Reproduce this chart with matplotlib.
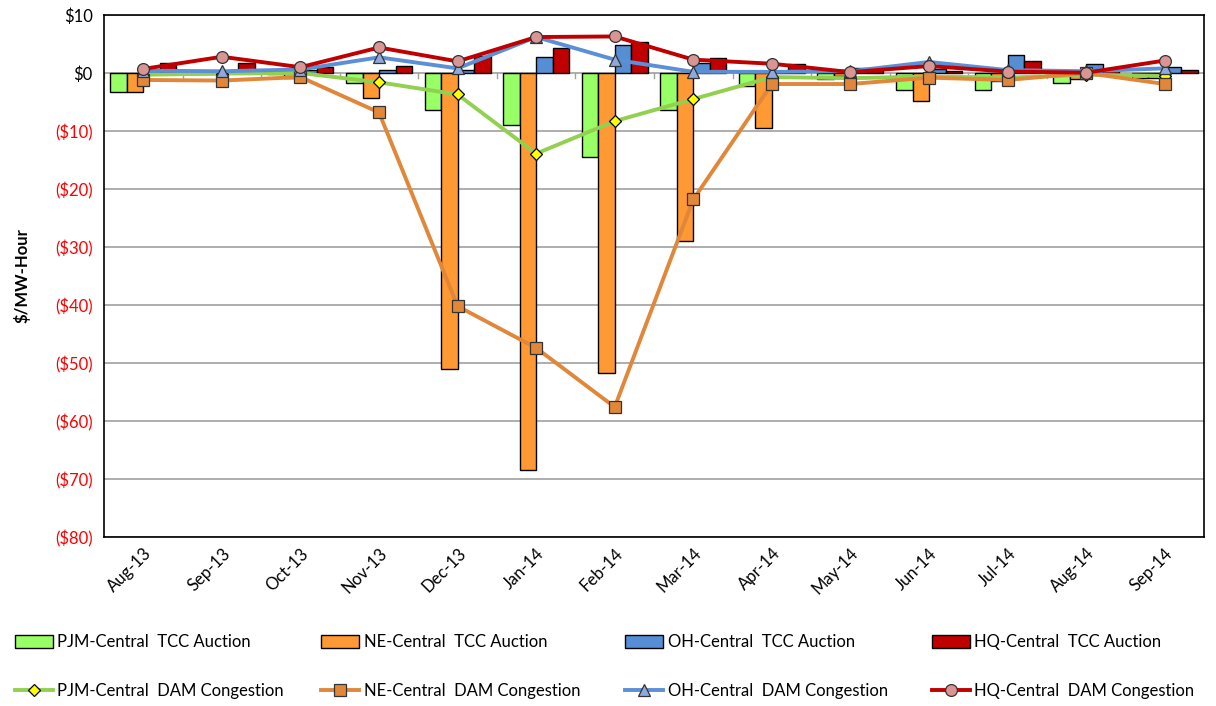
import matplotlib
matplotlib.use("Agg")
import matplotlib.pyplot as plt
import numpy as np

plt.rcParams['font.family'] = ['Lato', 'DejaVu Sans']

months = ["Aug-13", "Sep-13", "Oct-13", "Nov-13", "Dec-13", "Jan-14", "Feb-14",
          "Mar-14", "Apr-14", "May-14", "Jun-14", "Jul-14", "Aug-14", "Sep-14"]

pjm_tcc = [-3.3, -0.2, -0.1, -1.75, -6.45, -8.9, -14.5, -6.45, -2.3, -1.0, -3.0, -2.85, -1.75, -0.8]
ne_tcc = [-3.3, -0.2, -0.8, -4.3, -51.0, -68.4, -51.7, -29.0, -9.4, -0.5, -4.85, -1.3, -1.0, -0.8]
oh_tcc = [0.5, 0.2, 0.6, 0.55, 0.5, 2.8, 4.85, 1.7, 0.3, 0.8, 0.7, 3.1, 1.6, 1.0]
hq_tcc = [1.8, 1.8, 1.0, 1.2, 3.0, 4.3, 5.4, 2.6, 1.6, 0.9, 0.3, 2.0, 0.5, 0.55]

pjm_dam = [-0.3, -0.1, 0.0, -1.6, -3.7, -13.9, -8.3, -4.5, -0.7, -0.9, -0.6, -0.8, -0.3, -0.5]
ne_dam = [-1.2, -1.3, -0.7, -6.8, -40.2, -47.4, -57.6, -21.8, -1.9, -1.9, -0.8, -1.2, 0.0, -1.9]
oh_dam = [0.4, 0.3, 0.6, 2.7, 0.8, 6.2, 2.3, 0.2, 0.2, 0.3, 1.9, 0.5, 0.3, 0.8]
hq_dam = [0.7, 2.8, 1.0, 4.4, 2.0, 6.2, 6.3, 2.3, 1.6, 0.15, 1.2, 0.25, 0.05, 2.15]

y_ticks = [10, 0, -10, -20, -30, -40, -50, -60, -70, -80]
y_labels = ["$10", "$0", "($10)", "($20)", "($30)", "($40)", "($50)", "($60)", "($70)", "($80)"]

fig = plt.figure(figsize=(12.16, 7.06), dpi=100)
ax = fig.add_axes([104/1216, 1-537/706, 1100/1216, 522/706])

x = np.arange(len(months))
w = 0.21
offs = [-1.5*w, -0.5*w, 0.5*w, 1.5*w]

for i in y_ticks:
    ax.axhline(i, color='#a0a0a0', lw=1.2, zorder=0.5)

b1 = ax.bar(x + offs[0], pjm_tcc, w, color='#99FF66', edgecolor='black', lw=1, zorder=2, label='PJM-Central  TCC Auction')
b2 = ax.bar(x + offs[1], ne_tcc, w, color='#FF9933', edgecolor='black', lw=1, zorder=2, label='NE-Central  TCC Auction')
b3 = ax.bar(x + offs[2], oh_tcc, w, color='#558ED5', edgecolor='black', lw=1, zorder=2, label='OH-Central  TCC Auction')
b4 = ax.bar(x + offs[3], hq_tcc, w, color='#C00000', edgecolor='black', lw=1, zorder=2, label='HQ-Central  TCC Auction')

l1, = ax.plot(x, pjm_dam, color='#92D050', lw=2.8, marker='D', ms=6.5, mfc='#FFFF00', mec='black', mew=0.9, zorder=3, label='PJM-Central  DAM Congestion')
l2, = ax.plot(x, ne_dam, color='#E0873A', lw=2.8, marker='s', ms=8, mfc='#E0873A', mec='#333333', mew=0.9, zorder=3, label='NE-Central  DAM Congestion')
l3, = ax.plot(x, oh_dam, color='#5B8FD6', lw=2.8, marker='^', ms=8.5, mfc='#8EA9DB', mec='#333333', mew=0.9, zorder=3, label='OH-Central  DAM Congestion')
l4, = ax.plot(x, hq_dam, color='#C00000', lw=2.8, marker='o', ms=8.5, mfc='#D99594', mec='#333333', mew=0.9, zorder=3, label='HQ-Central  DAM Congestion')

ax.set_xlim(-0.5, len(months) - 0.5)
ax.set_ylim(-80, 10)
ax.set_yticks(y_ticks)
ax.set_yticklabels(y_labels, fontsize=12)
for t, v in zip(ax.get_yticklabels(), y_ticks):
    t.set_color('red' if v < 0 else 'black')
ax.tick_params(axis='y', length=0, pad=8)

ax.set_xticks(x)
ax.set_xticklabels(months, rotation=45, ha='right', rotation_mode='anchor', fontsize=12)
ax.tick_params(axis='x', length=0, pad=6)

# small boundary ticks on the zero line
for b in np.arange(-0.5, len(months), 1.0):
    ax.plot([b, b], [0, -0.8], color='#a0a0a0', lw=1, zorder=1)

for s in ax.spines.values():
    s.set_color('black')
    s.set_linewidth(1.2)

ax.set_ylabel('$/MW-Hour', fontsize=12, fontweight='bold', labelpad=18)

col_x = [15, 321, 625, 932]
row_y = [642, 691]
cols = [(b1, l1), (b2, l2), (b3, l3), (b4, l4)]
for cx, (hb, hl) in zip(col_x, cols):
    for ry, h in zip(row_y, (hb, hl)):
        fig.legend(handles=[h], labels=[h.get_label()], loc='center left',
                   bbox_to_anchor=(cx/1216, 1 - ry/706), frameon=False,
                   fontsize=12, handlelength=2.3, handletextpad=0.25,
                   borderpad=0, borderaxespad=0, handleheight=0.8)

fig.savefig('out.png', dpi=100)
